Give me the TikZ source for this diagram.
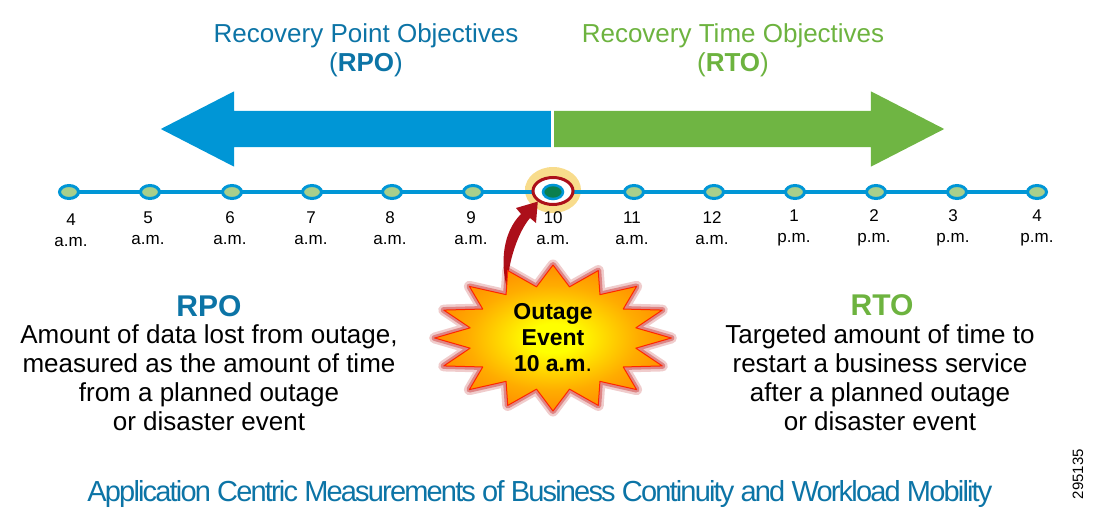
\documentclass[tikz,border=0pt]{standalone}
\usepackage{fontspec}
\setmainfont{Liberation Sans}
\usetikzlibrary{shapes.geometric,shapes.arrows}
\definecolor{rpoblue}{HTML}{0C74A6}
\definecolor{rtogreen}{HTML}{6DB33F}
\definecolor{arrowblue}{HTML}{0096D6}
\definecolor{linegreen}{HTML}{6FB543}
\definecolor{tickfill}{HTML}{A9CF8B}
\definecolor{tickdark}{HTML}{0B7F4F}
\definecolor{ringred}{HTML}{AC0F1A}
\definecolor{glowyellow}{HTML}{F8DC8C}
\pgfdeclareradialshading{ringglow}{\pgfpoint{0bp}{0bp}}{color(0bp)=(glowyellow); color(36bp)=(glowyellow); color(50bp)=(white)}
\pgfdeclareradialshading{burstfill}{\pgfpoint{0bp}{0bp}}{color(0bp)=(yellow); color(5bp)=(yellow); color(18bp)=(orange!65!yellow); color(30bp)=(orange!95!red); color(50bp)=(orange!95!red)}
\begin{document}
\begin{tikzpicture}[
      x=1pt,
      y=-1pt,
      node distance=36pt,
      title/.style={
        font=\fontsize{26}{29}\selectfont,
        align=center,
        inner sep=0pt
      },
      bigarrow/.style={
        single arrow,
        anchor=tail,
        minimum height=390pt,
        minimum width=75pt,
        single arrow head extend=19.5pt,
        single arrow head indent=0pt,
        single arrow tip angle=54.4,
        inner xsep=0pt,
        inner ysep=18pt
      },
      tick/.style={
        draw=arrowblue,
        line width=3pt,
        fill=tickfill,
        ellipse,
        inner sep=0pt,
        minimum width=19pt,
        minimum height=13pt
      },
      ticklabel/.style={
        font=\fontsize{17}{21}\selectfont,
        align=center,
        inner sep=0pt
      },
      heading/.style={
        font=\fontsize{30}{30}\selectfont\bfseries,
        inner sep=0pt
      },
      bodytext/.style={
        font=\fontsize{26}{29}\selectfont,
        align=center,
        inner sep=0pt
      },
      burst/.style={
        star,
        star points=16,
        star point ratio=1.4,
        minimum size=146pt,
        inner sep=0pt,
        xscale=1.62,
        transform shape
      }
    ]
    \useasboundingbox (0,0) rectangle (1095,522);

    % top
    \node[title,text=rpoblue] (rpotitle) at (366,50) {Recovery Point Objectives\\(\textbf{RPO})};
    \node[title,text=rtogreen] (rtotitle) at (733,50) {Recovery Time Objectives\\(\textbf{RTO})};
    \node[bigarrow,fill=arrowblue,shape border rotate=180] (rpoarrow) at (551,129) {};
    \node[bigarrow,fill=linegreen] (rtoarrow) at (554,129) {};

    % timeline
    \node[ellipse,shading=ringglow,minimum width=56pt,minimum height=46pt] (glow) at (553,190) {};
    \coordinate (linestart) at (60,192);
    \coordinate (lineend) at (1047,192);
    \draw[arrowblue,line width=4pt] (linestart) -- (lineend);
    \node[tick] (t1) at (69,192) {};
    \node[tick] (t2) at (150,192) {};
    \node[tick] (t3) at (232,192) {};
    \node[tick] (t4) at (312,192) {};
    \node[tick] (t5) at (392,192) {};
    \node[tick] (t6) at (473,192) {};
    \node[ellipse,draw=ringred,line width=3pt,fill=white,inner sep=0pt,minimum width=40pt,minimum height=27pt] (ring) at (553,191) {};
    \node[tick,fill=tickdark,line width=2.5pt,minimum width=20pt,minimum height=14pt] (t7) at (553,192) {};
    \node[tick] (t8) at (634,192) {};
    \node[tick] (t9) at (714,192) {};
    \node[tick] (t10) at (795,192) {};
    \node[tick] (t11) at (876,192) {};
    \node[tick] (t12) at (957,192) {};
    \node[tick] (t13) at (1037,192) {};

    \node[ticklabel, below of=t1, xshift=2pt, yshift=-2pt] (l1) {4\\a.m.};
    \node[ticklabel, below of=t2, xshift=-2pt] (l2) {5\\a.m.};
    \node[ticklabel, below of=t3, xshift=-2pt] (l3) {6\\a.m.};
    \node[ticklabel, below of=t4, xshift=-1pt] (l4) {7\\a.m.};
    \node[ticklabel, below of=t5, xshift=-2pt] (l5) {8\\a.m.};
    \node[ticklabel, below of=t6, xshift=-2pt] (l6) {9\\a.m.};
    \node[ticklabel, below of=t7] (l7) {10\\a.m.};
    \node[ticklabel, below of=t8, xshift=-2pt] (l8) {11\\a.m.};
    \node[ticklabel, below of=t9, xshift=-2pt] (l9) {12\\a.m.};
    \node[ticklabel, below of=t10, xshift=-1pt] (l10) {1\\p.m.};
    \node[ticklabel, below of=t11, xshift=-2pt] (l11) {2\\p.m.};
    \node[ticklabel, below of=t12, xshift=-4pt] (l12) {3\\p.m.};
    \node[ticklabel, below of=t13] (l13) {4\\p.m.};

    % outage
    \coordinate (arrowtail) at (507,288);
    \fill[ringred] (arrowtail) .. controls (500,262) and (503,232) .. (521,214)
      -- (516,208) -- (ring.south west) -- (536,223) -- (530,218)
      .. controls (518,232) and (508,262) .. cycle;
    \node[burst,draw=red!70!black,draw opacity=.2,line join=round,line width=11pt] (burstglow) at (553,338) {};
    \node[burst,draw=red!75!black,draw opacity=.35,line join=round,line width=6pt] (burstedge) at (553,338) {};
    \node[burst,draw=red!70!orange,line join=round,line width=1pt,shading=burstfill] (burststar) at (553,338) {};
    \node[font=\fontsize{23}{26}\selectfont\bfseries,align=center,inner sep=0pt] (outage) at (burststar.center) {Outage\\Event\\10 a.m{\mdseries.}};

    % definitions
    \node[heading,text=rpoblue] (rpohead) at (209,306) {RPO};
    \node[bodytext] (rpobody) at (209,378) {Amount of data lost from outage,\\measured as the amount of time\\from a planned outage\\or disaster event};
    \node[heading,text=rtogreen] (rtohead) at (882,305) {RTO};
    \node[bodytext] (rtobody) at (880,378) {Targeted amount of time to\\restart a business service\\after a planned outage\\or disaster event};

    % bottom
    \node[font=\fontsize{29}{32}\selectfont\addfontfeatures{LetterSpace=-6.3},text=rpoblue,inner sep=0pt] (caption) at (540,494) {Application Centric Measurements of Business Continuity and Workload Mobility};
    \node[font=\fontsize{15}{16}\selectfont,rotate=90,inner sep=0pt] (figno) at (1078,474) {295135};
  \end{tikzpicture}
\end{document}
